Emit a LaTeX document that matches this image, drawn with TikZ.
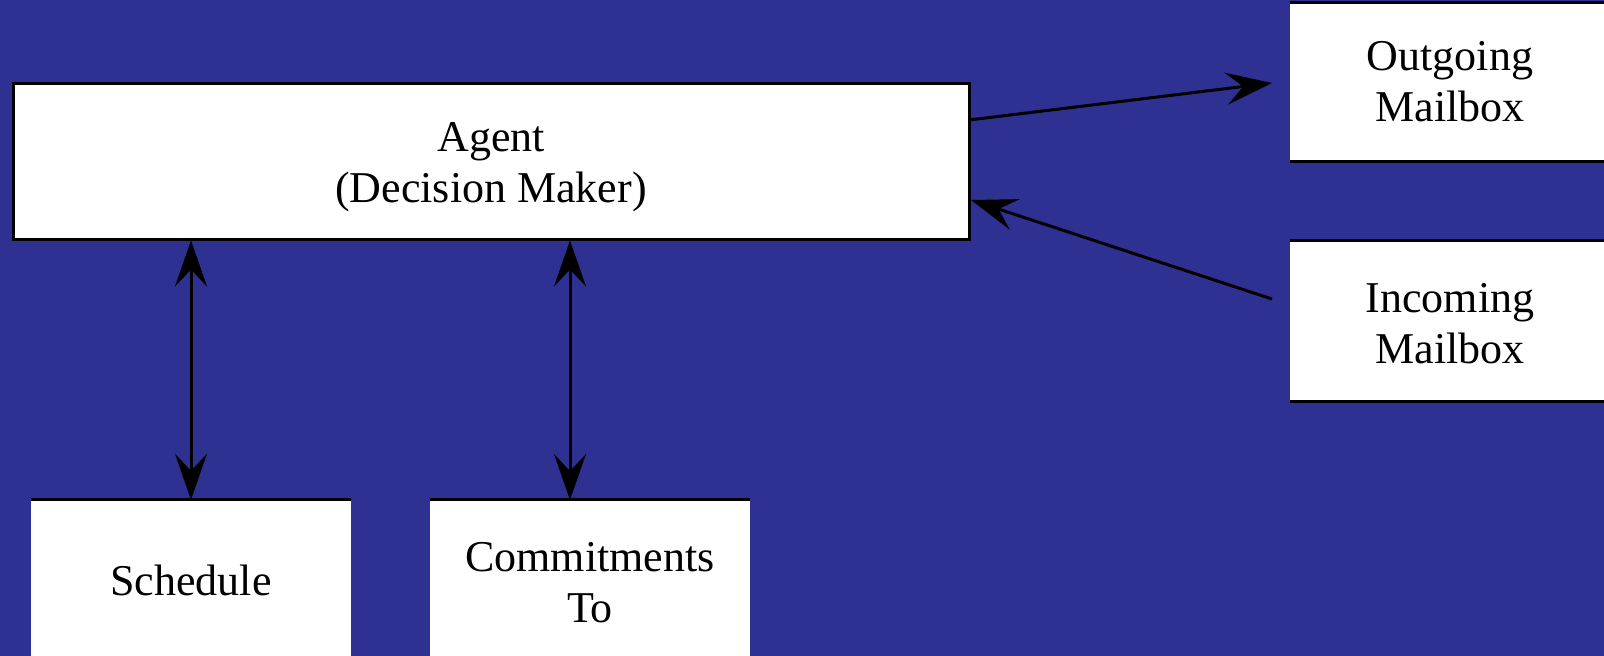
\documentclass[tikz,border=0pt]{standalone}
\usepackage{fontspec}
\setmainfont{Liberation Serif}
\usetikzlibrary{arrows.meta}
\definecolor{slideblue}{HTML}{2E3192}
\begin{document}
\begin{tikzpicture}[x=1pt,y=-1pt,
  box/.style={fill=white, inner sep=0pt, align=center,
    font=\fontsize{44}{51}\selectfont, text=black},
  caption/.style={inner sep=0pt, align=center,
    font=\fontsize{44}{51}\selectfont, text=black},
  framed/.style={box, draw=black, line width=3pt},
  edge/.style={line width=3pt, draw=black},
  link/.style={line width=3pt, draw=black,
    -{Stealth[length=46pt,width=32pt,inset=17pt]}},
  dlink/.style={line width=3pt, draw=black,
    {Stealth[length=46pt,width=32pt,inset=17pt]}-{Stealth[length=46pt,width=32pt,inset=17pt]}}]
  % page and background
  \useasboundingbox (0,0) rectangle (1604,656);
  \clip (0,0) rectangle (1604,656);
  \fill[slideblue] (0,0) rectangle (1604,656);

  % central agent box and its caption
  \node[framed, minimum width=956pt, minimum height=156pt] (agent) at (491,161) {};
  \node[caption] (agentText) at (491,167) {Agent\\(Decision Maker)};

  % mailboxes on the right
  \node[box, minimum width=320pt, minimum height=158pt] (out) at (1450,82)
    {Outgoing\\Mailbox};
  \node[box, minimum width=320pt, minimum height=160pt] (in) at (1450,321) {};
  \node[caption] (inText) at (1450,324) {Incoming\\Mailbox};
  \draw[edge] (out.north west) -- (out.north east);
  \draw[edge] (out.south west) -- (out.south east);
  \draw[edge] (in.north west) -- (in.north east);
  \draw[edge] (in.south west) -- (in.south east);

  % data stores below
  \node[box, minimum width=320pt, minimum height=160pt] (sched) at (191,580)
    {Schedule};
  \node[box, minimum width=320pt, minimum height=160pt] (commit) at (590,580) {};
  \node[caption] (commitText) at (590,583) {Commitments\\To};
  \draw[edge] (sched.north west) -- (sched.north east);
  \draw[edge] (commit.north west) -- (commit.north east);

  % connector end points
  \coordinate (cTop) at (570,500);
  \coordinate (outEnd) at (1272,83);
  \coordinate (inStart) at (1272,299);
  \coordinate (aOut) at (969,120);
  \coordinate (aIn) at (971,200);

  % connectors
  \draw[dlink] (agent.south -| sched.north) -- (sched.north);
  \draw[dlink] (agent.south -| cTop) -- (cTop);
  \draw[link] (aOut) -- (outEnd);
  \draw[link] (inStart) -- (aIn);
\end{tikzpicture}
\end{document}
